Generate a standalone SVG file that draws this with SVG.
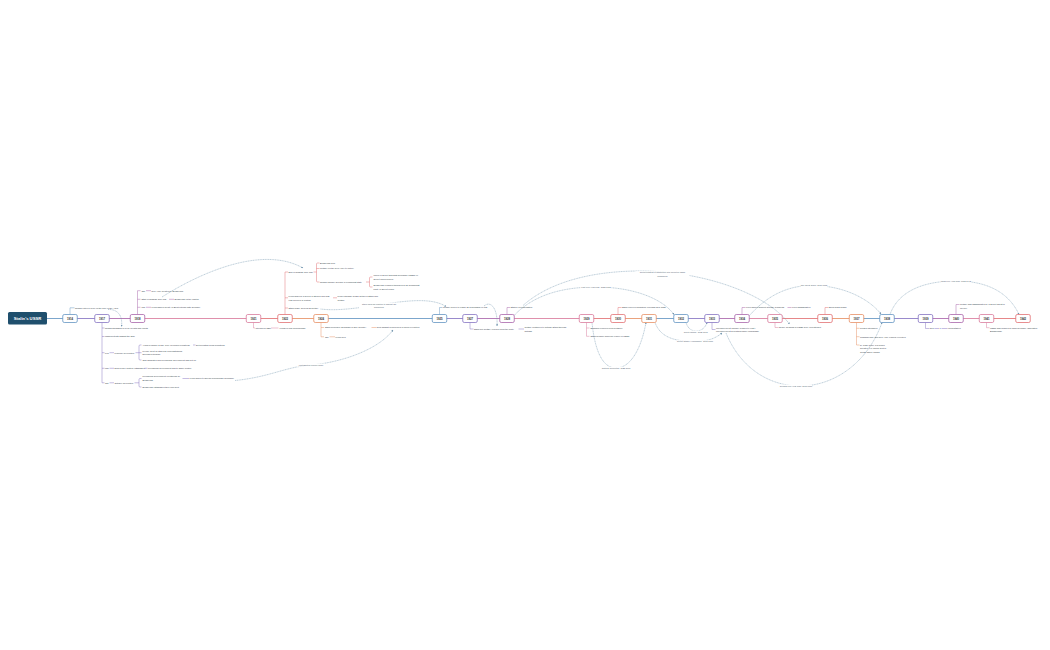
<svg xmlns="http://www.w3.org/2000/svg" width="1050" height="650" viewBox="0 0 1050 650">
<style>
.t{font-family:"Liberation Sans",Arial,sans-serif;font-size:2.2px;fill:#2f3a45}
.y{font-family:"Liberation Sans",Arial,sans-serif;font-size:2.8px;font-weight:bold;fill:#333;text-anchor:middle}
.rl{font-family:"Liberation Sans",Arial,sans-serif;font-size:2.1px;fill:#4a5a6a;text-anchor:middle}
.box{fill:#fff;stroke-width:0.75}
.br{fill:none;stroke-width:0.45}
.ml{fill:none;stroke-width:0.8}
.rel{fill:none;stroke:#6f93ad;stroke-width:0.45;stroke-dasharray:1.2 0.5}
.bg{fill:#fff}
.sB{stroke:#5b8fbf}.sP{stroke:#7f6cbf}.sM{stroke:#a45ca6}.sK{stroke:#d77497}.sR{stroke:#e0686b}.sO{stroke:#e58a5c}
</style>
<defs>
<marker id="ar" viewBox="0 0 4 4" refX="3.5" refY="2" markerWidth="2" markerHeight="2" orient="auto" markerUnits="userSpaceOnUse"><path d="M0,0 L4,2 L0,4 z" fill="#6f93ad"/></marker>
</defs>
<rect width="1050" height="650" fill="#fff"/>
<g id="connectors">
<path class="ml sB" d="M47,318.5 H70"/>
<path class="ml sP" d="M70,318.5 H102"/>
<path class="ml sM" d="M102,318.5 H137.5"/>
<path class="ml sK" d="M137.5,318.5 H253.5"/>
<path class="ml sR" d="M253.5,318.5 H285"/>
<path class="ml sO" d="M285,318.5 H321"/>
<path class="ml sB" d="M321,318.5 H439.5"/>
<path class="ml sP" d="M439.5,318.5 H470"/>
<path class="ml sM" d="M470,318.5 H507"/>
<path class="ml sK" d="M507,318.5 H586.5"/>
<path class="ml sR" d="M586.5,318.5 H618"/>
<path class="ml sO" d="M618,318.5 H649"/>
<path class="ml sB" d="M649,318.5 H681"/>
<path class="ml sP" d="M681,318.5 H712"/>
<path class="ml sM" d="M712,318.5 H742"/>
<path class="ml sK" d="M742,318.5 H775"/>
<path class="ml sR" d="M775,318.5 H825"/>
<path class="ml sO" d="M825,318.5 H856.5"/>
<path class="ml sB" d="M856.5,318.5 H887"/>
<path class="ml sP" d="M887,318.5 H925.5"/>
<path class="ml sM" d="M925.5,318.5 H956"/>
<path class="ml sK" d="M956,318.5 H986.5"/>
<path class="ml sR" d="M986.5,318.5 H1023"/>
<path class="rel" marker-end="url(#ar)" d="M108,309.5 C117,309 123,315 121.5,326.5"/>
<path class="rel" marker-end="url(#ar)" d="M162,297 C200,273 262,245 303,268"/>
<path class="rel" marker-end="url(#ar)" d="M235,380.5 C270,377 285,367 311,365 C345,362 380,348 393,330"/>
<path class="rel" marker-end="url(#ar)" d="M320.5,309 C360,314 420,290 446,306.5"/>
<path class="rel" marker-end="url(#ar)" d="M484,306 C491,300 498,309 497,326"/>
<path class="rel" marker-end="url(#ar)" d="M523,305.5 C548,283 590,271 640,271 C700,271 765,292 789.5,324"/>
<path class="rel" marker-end="url(#ar)" d="M514.5,315 C533,296 560,287 596,287 C632,287 662,298 674,314.5"/>
<path class="rel" marker-end="url(#ar)" d="M592,322.5 C595,352 603,368 616,368 C630,368 641,350 646,322.5"/>
<path class="rel" marker-end="url(#ar)" d="M686,322.5 C688,329 692,331 696,331 C700,331 705,329 707,322.5"/>
<path class="rel" marker-end="url(#ar)" d="M655,322.5 C660,336 672,341.5 695,341.5 C708,341.5 716,338 722,333"/>
<path class="rel" marker-end="url(#ar)" d="M726,333 C740,367 768,386 800,386 C835,386 868,362 882,322.5"/>
<path class="rel" marker-end="url(#ar)" d="M749.5,315.5 C765,298 785,285.5 812,285.5 C845,285.5 870,300 881,314"/>
<path class="rel" marker-end="url(#ar)" d="M890,314.5 C898,292 922,281 956,281 C988,281 1009,293 1019,314.5"/>
<rect class="bg" x="297" y="363.6" width="28" height="3"/>
<text class="rl" x="311" y="365.8">contradicted Lenin's vision</text>
<rect class="bg" x="359" y="302.6" width="40" height="6.6"/>
<text class="rl" x="379" y="304.8">Stalin used his position to appoint his</text>
<text class="rl" x="379" y="308.3">supporters</text>
<rect class="bg" x="635.5" y="271.2" width="54" height="6.8"/>
<text class="rl" x="662.5" y="273.3">Collectivisation of agriculture into collective farms</text>
<text class="rl" x="662.5" y="276.8">(kolkhozes)</text>
<rect class="bg" x="580.5" y="285.6" width="31" height="3"/>
<text class="rl" x="596" y="287.8">First Five-Year Plan, 1928-1932</text>
<rect class="bg" x="601" y="366.8" width="30" height="3"/>
<text class="rl" x="616" y="369">Cultural Revolution, 1928-1931</text>
<rect class="bg" x="684" y="330.6" width="23.5" height="3"/>
<text class="rl" x="695.7" y="332.8">Great Famine, 1932-1933</text>
<rect class="bg" x="677" y="340.2" width="36" height="3"/>
<text class="rl" x="695" y="342.4">Soviet famine (Holodomor), 1931-1933</text>
<rect class="bg" x="780" y="384.6" width="32" height="3"/>
<text class="rl" x="796" y="386.8">Second Five-Year Plan, 1933-1937</text>
<rect class="bg" x="800.5" y="284.2" width="27" height="3"/>
<text class="rl" x="814" y="286.4">The Great Terror, 1936-1938</text>
<rect class="bg" x="940.5" y="279.8" width="31" height="3"/>
<text class="rl" x="956" y="282">Third Five-Year Plan, 1938-1942</text>
</g>

<g id="root">
<rect x="8" y="312" width="39" height="12.5" rx="1.5" fill="#1f4f6d"/>
<text x="27.5" y="319.8" text-anchor="middle" font-family="Liberation Sans, Arial, sans-serif" font-size="4.2" font-weight="bold" fill="#fff">Stalin's USSR</text>
</g>

<g id="n1914">
<path class="br sB" d="M70,314.5 V307.8 H74.5"/>
<text class="t" x="75" y="308.6">Russia entered WWI on the side of the Allies</text>
<rect class="box sB" x="62.75" y="314.5" width="14.5" height="8" rx="1.5"/>
<text class="y" x="70" y="319.5">1914</text>
</g>

<g id="n1917">
<path class="br sP" d="M102,322.5 V382.8 H104.5 M102,328 H104.5 M102,336.5 H104.5 M102,352.7 H104.5 M102,368.3 H104.5 M109.5,352.7 H114 M135.5,352.7 H139 M141.5,345 H140 Q139,345 139,346 V359 Q139,360 140,360 H141.5 M139,352.7 H141.5 M193,345 H195.5 M109.5,368.3 H114 M144.5,368.3 H147.5 M109.5,382.8 H114 M134.5,382.8 H139 M141.5,378.5 H140 Q139,378.5 139,379.5 V386 Q139,387 140,387 H141.5 M182.5,378.5 H189"/>
<text class="t" x="105" y="328.8">Russia struggling to keep up with war efforts</text>
<text class="t" x="105" y="337.3">Mass protests against the Tsar</text>
<text class="t" x="105" y="353.5">Feb</text>
<text class="t" x="114.5" y="353.5">February Revolution</text>
<text class="t" x="142.5" y="345.8">Years of famine &amp; war, poor economic conditions</text>
<text class="t" x="196" y="345.8">Deteriorating living conditions</text>
<text class="t" x="142.5" y="351.5">People went on strikes &amp; demonstrations</text>
<text class="t" x="142.5" y="355.2">through Petrograd</text>
<text class="t" x="142.5" y="360.8">Tsar abdicated and Provisional Government was set up</text>
<text class="t" x="105" y="369.1">Mar</text>
<text class="t" x="114.5" y="369.1">Dual Power system established</text>
<text class="t" x="148" y="369.1">Provisional Government had to share control</text>
<text class="t" x="105" y="383.6">Oct</text>
<text class="t" x="114.5" y="383.6">October Revolution</text>
<text class="t" x="142.5" y="377.4">Provisional Government overthrown by</text>
<text class="t" x="142.5" y="381.1">Bolsheviks</text>
<text class="t" x="189.5" y="379.3">Lenin aimed to spread communism worldwide</text>
<text class="t" x="142.5" y="387.8">Bolsheviks established their own govt</text>
<rect class="box sP" x="94.75" y="314.5" width="14.5" height="8" rx="1.5"/>
<text class="y" x="102" y="319.5">1917</text>
</g>

<g id="n1918">
<path class="br sM" d="M137.5,314.5 V290.7 H140.5 M137.5,299.3 H140.5 M137.5,307.3 H140.5 M146,290.7 H151 M169,299.3 H174 M146,307.3 H151"/>
<text class="t" x="141.5" y="291.5">Jan</text>
<text class="t" x="151.5" y="291.5">Red Army created by Bolsheviks</text>
<text class="t" x="141.5" y="300.1">Start of Russian Civil War</text>
<text class="t" x="174.5" y="300.1">Bolsheviks vs the Whites</text>
<text class="t" x="141.5" y="308.1">Mar</text>
<text class="t" x="151.5" y="308.1">Lenin signed Treaty of Brest-Litovsk with Germany</text>
<rect class="box sM" x="130.25" y="314.5" width="14.5" height="8" rx="1.5"/>
<text class="y" x="137.5" y="319.5">1918</text>
</g>

<g id="n1921">
<path class="br sK" d="M253.5,322.5 V328 H255 M271,328 H278.5"/>
<text class="t" x="255.5" y="328.8">Introduced NEP</text>
<text class="t" x="279.5" y="328.8">replaced War Communism</text>
<rect class="box sK" x="246.25" y="314.5" width="14.5" height="8" rx="1.5"/>
<text class="y" x="253.5" y="319.5">1921</text>
</g>

<g id="n1922">
<path class="br sR" d="M285,314.5 V272 H288 M285,297.8 H288 M285,308 H288 M313.5,272 H316.5 M319.5,263 H317.5 Q316.5,263 316.5,264 V281 Q316.5,282 317.5,282 H319.5 M316.5,268.5 H319.5 M366,282 H369.5 M372.5,277 H370.5 Q369.5,277 369.5,278 V286 Q369.5,287 370.5,287 H372.5 M333,297.8 H337"/>
<text class="t" x="288.5" y="272.8">End of Russian Civil War</text>
<text class="t" x="320" y="263.8">Bolsheviks won</text>
<text class="t" x="320" y="269.3">Trotsky led the Red Army to victory</text>
<text class="t" x="320" y="282.8">Russia officially became a communist state</text>
<text class="t" x="373.5" y="275.8">Union of Soviet Socialist Republics (USSR) or</text>
<text class="t" x="373.5" y="279.5">Soviet Union formed</text>
<text class="t" x="373.5" y="285.8">Bolsheviks renamed themselves as Communist</text>
<text class="t" x="373.5" y="289.5">Party of Soviet Union</text>
<text class="t" x="288.5" y="297.1">Lenin suffered a series of strokes and was</text>
<text class="t" x="288.5" y="300.7">less involved in politics</text>
<text class="t" x="337.5" y="297.1">Power struggle began between Stalin and</text>
<text class="t" x="337.5" y="300.7">Trotsky</text>
<text class="t" x="288.5" y="308.8">Stalin made General Secretary</text>
<rect class="box sR" x="277.75" y="314.5" width="14.5" height="8" rx="1.5"/>
<text class="y" x="285" y="319.5">1922</text>
</g>

<g id="n1924">
<path class="br sO" d="M321,322.5 V336.8 H324 M321,327.5 H324 M371.5,327.5 H376 M329.5,336.8 H335"/>
<text class="t" x="325" y="328.3">Stalin proposed 'Socialism in One Country'</text>
<text class="t" x="376.5" y="328.3">went against Lenin's idea of world revolution</text>
<text class="t" x="325" y="337.6">Jan</text>
<text class="t" x="335.5" y="337.6">Lenin died</text>
<rect class="box sO" x="313.75" y="314.5" width="14.5" height="8" rx="1.5"/>
<text class="y" x="321" y="319.5">1924</text>
</g>

<g id="n1925">
<path class="br sB" d="M439.5,314.5 V307.5 H442.5"/>
<text class="t" x="443" y="308.3">Trotsky forced to resign as Commissar of War</text>
<rect class="box sB" x="432.25" y="314.5" width="14.5" height="8" rx="1.5"/>
<text class="y" x="439.5" y="319.5">1925</text>
</g>

<g id="n1927">
<path class="br sP" d="M470,322.5 V329 H473.5 M518.5,329 H524"/>
<text class="t" x="474" y="329.8">Stalin got Trotsky expelled from the Party</text>
<text class="t" x="524.5" y="328.4">Trotsky continued to criticise Stalin through</text>
<text class="t" x="524.5" y="332">writings</text>
<rect class="box sP" x="462.75" y="314.5" width="14.5" height="8" rx="1.5"/>
<text class="y" x="470" y="319.5">1927</text>
</g>

<g id="n1928">
<path class="br sM" d="M507,314.5 V307.5 H510"/>
<text class="t" x="510.5" y="308.3">Started collectivisation</text>
<rect class="box sM" x="499.75" y="314.5" width="14.5" height="8" rx="1.5"/>
<text class="y" x="507" y="319.5">1928</text>
</g>

<g id="n1929">
<path class="br sK" d="M586.5,322.5 V336.3 H589.5 M586.5,328 H589.5"/>
<text class="t" x="590.5" y="328.8">Bukharin removed from Politburo</text>
<text class="t" x="590.5" y="337.1">Stalin became supreme leader of USSR</text>
<rect class="box sK" x="579.25" y="314.5" width="14.5" height="8" rx="1.5"/>
<text class="y" x="586.5" y="319.5">1929</text>
</g>

<g id="n1930">
<path class="br sR" d="M618,314.5 V307.5 H621.5"/>
<text class="t" x="622" y="308.3">Stalin ordered liquidation of kulaks as a class</text>
<rect class="box sR" x="610.75" y="314.5" width="14.5" height="8" rx="1.5"/>
<text class="y" x="618" y="319.5">1930</text>
</g>

<g id="n1931">
<rect class="box sO" x="641.75" y="314.5" width="14.5" height="8" rx="1.5"/>
<text class="y" x="649" y="319.5">1931</text>
</g>

<g id="n1932">
<rect class="box sB" x="673.75" y="314.5" width="14.5" height="8" rx="1.5"/>
<text class="y" x="681" y="319.5">1932</text>
</g>

<g id="n1933">
<path class="br sP" d="M712,322.5 V329.5 H715.5"/>
<text class="t" x="716" y="328.5">Unemployment officially ceased to exist +</text>
<text class="t" x="716" y="332.1">Unemployment benefits became unavailable</text>
<rect class="box sP" x="704.75" y="314.5" width="14.5" height="8" rx="1.5"/>
<text class="y" x="712" y="319.5">1933</text>
</g>

<g id="n1934">
<path class="br sM" d="M742,314.5 V307.5 H745.5 M787.5,307.5 H791.5"/>
<text class="t" x="746" y="308.3">Kirov gained support at Party Congress</text>
<text class="t" x="792" y="308.3">Kirov assassinated</text>
<rect class="box sM" x="734.75" y="314.5" width="14.5" height="8" rx="1.5"/>
<text class="y" x="742" y="319.5">1934</text>
</g>

<g id="n1935">
<path class="br sK" d="M775,322.5 V327.5 H778.5"/>
<text class="t" x="779" y="328.3">Nearly all farms in USSR were collectivised</text>
<rect class="box sK" x="767.75" y="314.5" width="14.5" height="8" rx="1.5"/>
<text class="y" x="775" y="319.5">1935</text>
</g>

<g id="n1936">
<path class="br sR" d="M825,314.5 V307.5 H828"/>
<text class="t" x="828.5" y="308.3">Show Trials began</text>
<rect class="box sR" x="817.75" y="314.5" width="14.5" height="8" rx="1.5"/>
<text class="y" x="825" y="319.5">1936</text>
</g>

<g id="n1937">
<path class="br sO" d="M856.5,322.5 V345 H859.5 M856.5,328.3 H859.5 M856.5,336.7 H859.5"/>
<text class="t" x="860" y="329.1">Purges intensified</text>
<text class="t" x="860" y="337.5">Tukhachevsky and Red Army leaders executed</text>
<text class="t" x="860" y="345.8">by 1938 nearly 1.5 million</text>
<text class="t" x="860" y="349.2">arrested, 0.7 million sent to</text>
<text class="t" x="860" y="352.6">Gulag labour camps</text>
<rect class="box sO" x="849.25" y="314.5" width="14.5" height="8" rx="1.5"/>
<text class="y" x="856.5" y="319.5">1937</text>
</g>

<g id="n1938">
<rect class="box sB" x="879.75" y="314.5" width="14.5" height="8" rx="1.5"/>
<text class="y" x="887" y="319.5">1938</text>
</g>

<g id="n1939">
<path class="br sP" d="M925.5,322.5 V328.5 H929.5 M934.5,328.5 H939 M941.5,328.5 H947.5"/>
<text class="t" x="930" y="329.3">Sep</text>
<text class="t" x="939.5" y="329.3">1</text>
<text class="t" x="948" y="329.3">WW2 started</text>
<rect class="box sP" x="918.25" y="314.5" width="14.5" height="8" rx="1.5"/>
<text class="y" x="925.5" y="319.5">1939</text>
</g>

<g id="n1940">
<path class="br sM" d="M956,314.5 V304.5 H959.5"/>
<text class="t" x="960" y="305.1">Trotsky was assassinated by a Soviet agent in</text>
<text class="t" x="960" y="308.6">Mexico</text>
<rect class="box sM" x="948.75" y="314.5" width="14.5" height="8" rx="1.5"/>
<text class="y" x="956" y="319.5">1940</text>
</g>

<g id="n1941">
<path class="br sK" d="M986.5,322.5 V327.7 H989.5"/>
<text class="t" x="990" y="328.5">USSR was invaded by Nazi Germany (Operation</text>
<text class="t" x="990" y="332.1">Barbarossa)</text>
<rect class="box sK" x="979.25" y="314.5" width="14.5" height="8" rx="1.5"/>
<text class="y" x="986.5" y="319.5">1941</text>
</g>

<g id="n1942">
<rect class="box sR" x="1015.75" y="314.5" width="14.5" height="8" rx="1.5"/>
<text class="y" x="1023" y="319.5">1942</text>
</g>
</svg>
